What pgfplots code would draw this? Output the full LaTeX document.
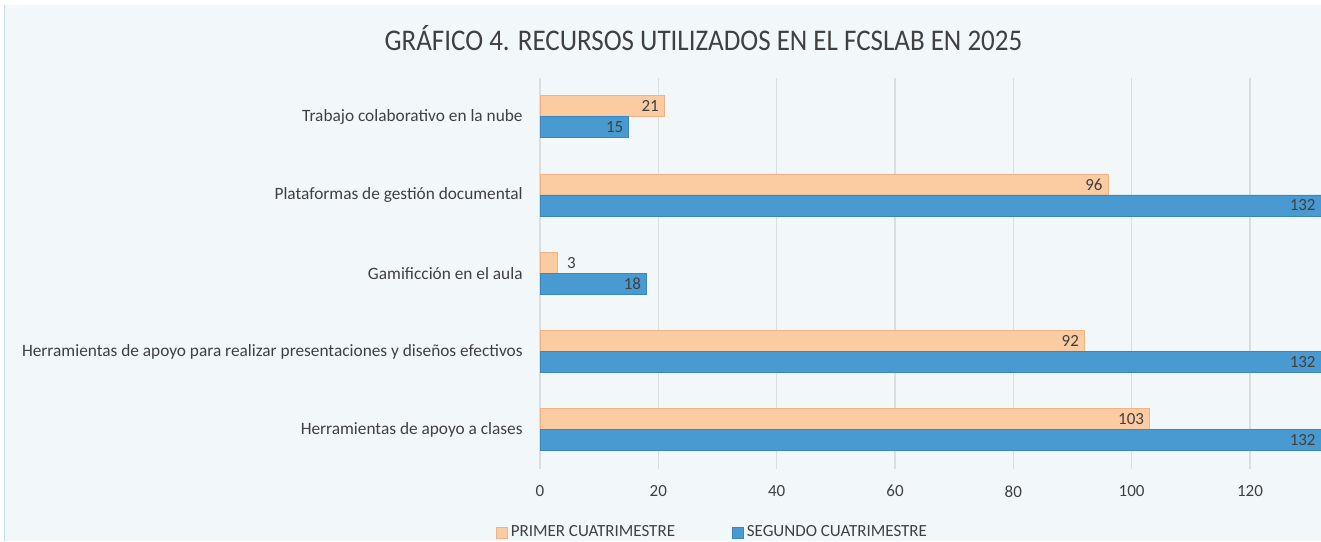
\documentclass[border=0pt]{standalone}
\usepackage{pgfplots}
\pgfplotsset{compat=1.18}
\usepackage{fontspec}
\setmainfont{Carlito}
\newfontfamily\titlefont{Carlito}[FakeStretch=0.9]
\definecolor{bg}{HTML}{F2F8FA}
\definecolor{frame}{HTML}{C9DCE3}
\definecolor{orangebar}{HTML}{FBCBA2}
\definecolor{orangeedge}{HTML}{F4B183}
\definecolor{bluebar}{HTML}{4A9AD2}
\definecolor{blueedge}{HTML}{3A86BE}
\definecolor{txt}{HTML}{404040}
\definecolor{grid}{HTML}{D9DEE0}
\begin{document}
\begin{tikzpicture}[x=0.5pt,y=0.5pt]
% picture frame: 1321 x 541 px, 1px = 0.5pt, origin bottom-left
\useasboundingbox (0,0) rectangle (1321,541);
\clip (0,0) rectangle (1321,541);
\fill[white] (0,0) rectangle (1321,541);
\fill[bg] (4,0) rectangle (1321,536);
\draw[frame, line width=0.8pt] (4.5,0) -- (4.5,536);
\node[txt, font=\titlefont\fontsize{15pt}{18pt}\selectfont] at (703.5,503) {GRÁFICO 4. RECURSOS UTILIZADOS EN EL FCSLAB EN 2025};
\begin{axis}[
  at={(270pt,36pt)}, anchor=south west,
  width=390.5pt, height=195.75pt, scale only axis,
  xbar, bar width=10.5pt,
  xmin=0, xmax=132, ymin=-0.5, ymax=4.5,
  axis x line*=bottom,
  axis y line*=left,
  x axis line style={draw=none},
  y axis line style={draw=grid, line width=0.6pt},
  /pgf/number format/assume math mode=true,
  xtick={0,20,40,60,80,100,120},
  xmajorgrids, grid style={draw=grid, line width=0.6pt},
  ytick={0,1,2,3,4},
  yticklabels={Herramientas de apoyo a clases,
    Herramientas de apoyo para realizar presentaciones y diseños efectivos,
    Gamificción en el aula,
    Plataformas de gestión documental,
    Trabajo colaborativo en la nube},
  major tick length=0pt,
  tick style={draw=none},
  yticklabel style={font=\fontsize{8.65pt}{10pt}\selectfont, text=txt, inner sep=0pt, xshift=-8.5pt},
  xticklabel style={font=\fontsize{8.5pt}{10pt}\selectfont, text=txt, inner sep=0pt, yshift=-8pt},
  visualization depends on={x \as \rawx},
  nodes near coords={\pgfmathprintnumber[assume math mode=true]{\pgfplotspointmeta}},
  nodes near coords style={font=\fontsize{8.5pt}{10pt}\selectfont, text=txt, anchor=east, inner sep=2.5pt,
     xshift={11.7pt*(\rawx<5)}},
  legend style={at={(0.2215,-0.163)}, anchor=center, draw=none, fill=none,
    font=\fontsize{8.5pt}{10pt}\selectfont, text=txt, legend columns=2,
    /tikz/every even column/.append style={column sep=27pt},
    /tikz/every odd column/.append style={column sep=0pt},
    nodes={inner sep=1.5pt}},
  legend image code/.code={\fill[#1] (0pt,-2.75pt) rectangle (5.5pt,2.75pt);},
  clip=false,
]
\addplot[fill=orangebar, draw=orangeedge, line width=0.4pt, bar shift=5.25pt]
  coordinates {(103,0) (92,1) (3,2) (96,3) (21,4)};
\addplot[fill=bluebar, draw=blueedge, line width=0.4pt, bar shift=-5.25pt]
  coordinates {(132,0) (132,1) (18,2) (132,3) (15,4)};
\legend{PRIMER CUATRIMESTRE, SEGUNDO CUATRIMESTRE}
\end{axis}
\end{tikzpicture}
\end{document}
